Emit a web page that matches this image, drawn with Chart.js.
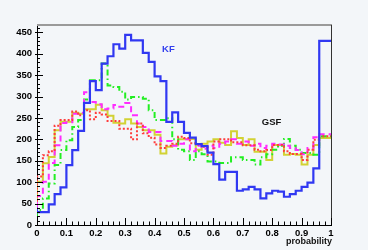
<!DOCTYPE html>
<html>
<head>
<meta charset="utf-8">
<script src="https://cdn.jsdelivr.net/npm/chart.js@4/dist/chart.umd.min.js"></script>
<style>
  html, body { margin: 0; padding: 0; background: #f3f6f9; }
  canvas { display: block; }
</style>
</head>
<body>
<canvas id="c" width="368" height="250"></canvas>
<script>
// Bin low edges (probability), 50 bins of width 0.02
const binEdges = [0,0.02,0.04,0.06,0.08,0.10,0.12,0.14,0.16,0.18,
                  0.20,0.22,0.24,0.26,0.28,0.30,0.32,0.34,0.36,0.38,
                  0.40,0.42,0.44,0.46,0.48,0.50,0.52,0.54,0.56,0.58,
                  0.60,0.62,0.64,0.66,0.68,0.70,0.72,0.74,0.76,0.78,
                  0.80,0.82,0.84,0.86,0.88,0.90,0.92,0.94,0.96,0.98];
const upperEdge = 1;

// KF (blue, solid)
const kfValues = [40,30,30,48,72,88,140,175,220,285,
                  336,315,377,394,422,412,444,431,431,402,
                  381,347,336,241,263,241,215,204,189,184,
                  169,142,106,124,124,80,83,89,83,62,
                  74,80,78,66,72,80,89,99,132,430];
// GSF variants
const yellowValues = [44,101,144,159,221,241,241,262,260,270,
                      270,281,268,255,239,237,247,237,229,221,
                      221,211,167,183,186,200,200,201,176,190,
                      195,200,192,187,219,203,187,200,171,171,
                      152,187,187,164,166,164,141,164,187,203];
const redValues = [55,113,163,172,232,245,245,265,256,268,
                   247,262,258,243,243,225,225,200,237,214,
                   204,188,180,185,190,206,203,191,188,183,
                   164,195,200,200,193,193,186,186,176,172,
                   175,187,187,172,166,166,152,176,199,207];
const magentaValues = [40,68,101,145,186,238,240,260,262,310,
                       287,282,270,272,280,276,285,256,237,229,
                       217,217,196,196,185,190,200,172,185,178,
                       185,180,190,195,200,190,195,185,190,180,
                       185,190,188,185,180,175,165,180,205,212];
const greenValues = [20,35,62,97,140,175,198,229,245,293,
                     338,338,377,326,322,311,293,299,299,295,
                     268,245,245,249,200,176,172,152,172,165,
                     148,148,145,145,158,158,152,152,141,158,
                     165,176,185,201,185,176,168,168,164,207];

const xTickLabels = ["0","0.1","0.2","0.3","0.4","0.5","0.6","0.7","0.8","0.9","1"];
const yTickLabels = ["0","50","100","150","200","250","300","350","400","450"];

function steps(vals) {
  const pts = binEdges.map((x, i) => ({x: x, y: vals[i]}));
  pts.push({x: upperEdge, y: vals[vals.length - 1]});
  return pts;
}

const FONT = "'Liberation Sans', Arial, Helvetica, sans-serif";

const decorations = {
  id: 'decorations',
  afterDatasetsDraw(chart) {
    const ctx = chart.ctx;
    const a = chart.chartArea;
    const xs = chart.scales.x, ys = chart.scales.y;
    ctx.save();
    // frame: top (grey) and right (dark)
    ctx.strokeStyle = '#9a9a9a';
    ctx.lineWidth = 2;
    ctx.beginPath(); ctx.moveTo(a.left, a.top); ctx.lineTo(a.right + 1, a.top); ctx.stroke();
    ctx.strokeStyle = '#333333';
    ctx.lineWidth = 1;
    ctx.beginPath(); ctx.moveTo(a.right + 0.5, a.top); ctx.lineTo(a.right + 0.5, a.bottom); ctx.stroke();
    // ticks
    ctx.strokeStyle = '#000';
    ctx.lineWidth = 1;
    ctx.beginPath();
    for (let k = 0; k <= 50; k++) {
      const v = k * 0.02;
      const px = Math.round(xs.getPixelForValue(v)) + 0.5;
      const len = (k % 5 === 0) ? 7 : 3.5;
      ctx.moveTo(px, a.bottom); ctx.lineTo(px, a.bottom - len);
    }
    for (let k = 0; k * 10 <= ys.max; k++) {
      const v = k * 10;
      const py = Math.round(ys.getPixelForValue(v)) + 0.5;
      const major = (k % 5 === 0);
      ctx.moveTo(a.left - (major ? 2 : 0), py); ctx.lineTo(a.left + (major ? 6 : 3), py);
    }
    ctx.stroke();
    // texts
    ctx.font = 'bold 9.5px ' + FONT;
    ctx.textAlign = 'center';
    ctx.textBaseline = 'middle';
    ctx.fillStyle = '#3340ee';
    ctx.fillText('KF', xs.getPixelForValue(0.447), ys.getPixelForValue(411));
    ctx.fillStyle = '#111';
    ctx.fillText('GSF', xs.getPixelForValue(0.798), ys.getPixelForValue(240));
    ctx.font = 'bold 9px ' + FONT;
    ctx.textAlign = 'right';
    ctx.textBaseline = 'alphabetic';
    ctx.fillText('probability', a.right + 1, a.bottom + 19);
    ctx.restore();
  }
};

const ds = (label, vals, color, dash, width) => ({
  label: label,
  data: steps(vals),
  borderColor: color,
  borderWidth: width,
  borderDash: dash,
  stepped: 'after',
  pointRadius: 0,
  fill: false,
  tension: 0
});

new Chart(document.getElementById('c'), {
  type: 'line',
  data: {
    datasets: [
      ds('KF', kfValues, '#3038f2', [], 2.2),
      ds('red', redValues, '#ff3c3c', [2, 2], 2),
      ds('magenta', magentaValues, '#ff2cff', [6, 4], 2),
      ds('green', greenValues, '#22ee22', [6, 3, 1.5, 3], 2),
      ds('yellow', yellowValues, '#d2d234', [], 2)
    ]
  },
  options: {
    responsive: false,
    animation: false,
    devicePixelRatio: 1,
    layout: { padding: { top: 25, right: 37, left: 0, bottom: 0 } },
    plugins: { legend: { display: false }, tooltip: { enabled: false } },
    scales: {
      x: {
        type: 'linear', min: 0, max: 1,
        grid: { display: false, drawTicks: false },
        border: { display: true, color: '#000', width: 1 },
        ticks: {
          stepSize: 0.1, padding: 3, color: '#000', maxRotation: 0, autoSkip: false,
          font: { family: FONT, size: 9.5, weight: 'bold' },
          callback: (v) => xTickLabels[Math.round(v * 10)]
        },
        afterFit: (s) => { s.height = 25; }
      },
      y: {
        type: 'linear', min: 0, max: 467,
        grid: { display: false, drawTicks: false },
        border: { display: true, color: '#000', width: 1 },
        ticks: {
          stepSize: 50, includeBounds: false, padding: 5, color: '#000', autoSkip: false,
          font: { family: FONT, size: 9.5, weight: 'bold' },
          callback: (v) => yTickLabels[Math.round(v / 50)]
        },
        afterFit: (s) => { s.width = 37; }
      }
    }
  },
  plugins: [decorations]
});
</script>
</body>
</html>
